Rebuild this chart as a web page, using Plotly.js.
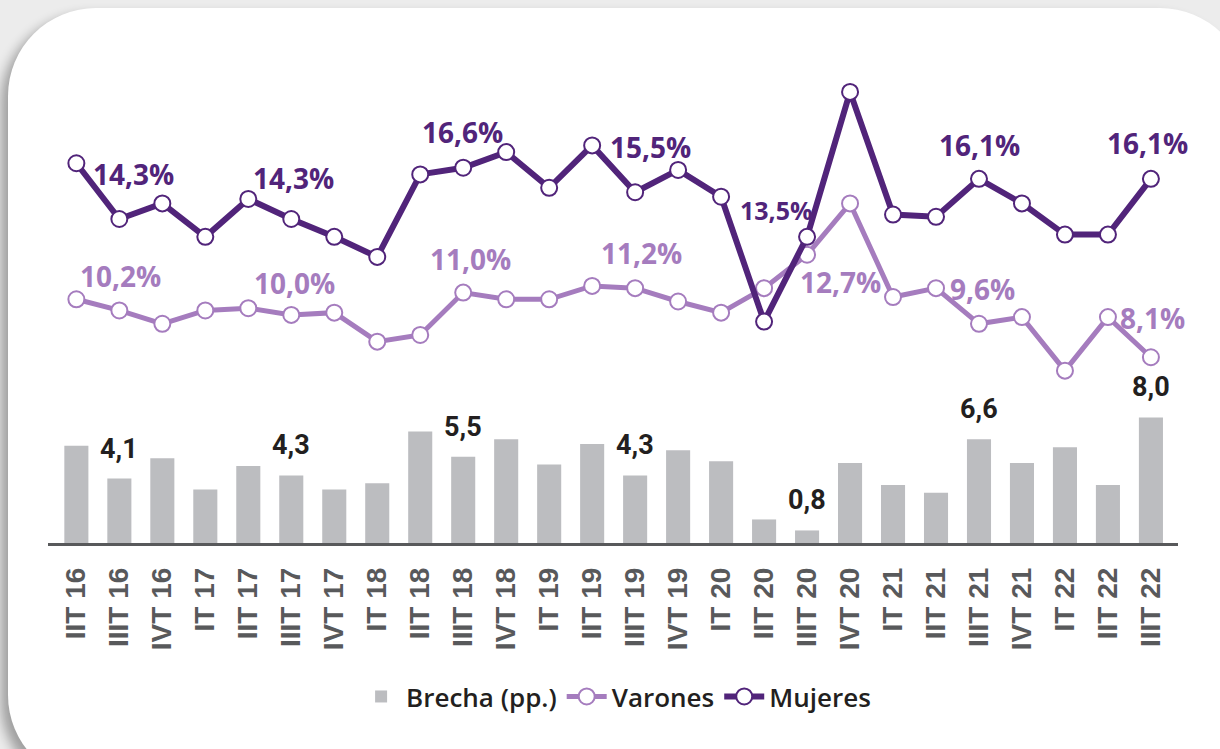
<!DOCTYPE html>
<html>
<head>
<meta charset="utf-8">
<script src="https://cdn.plot.ly/plotly-3.0.1.min.js"></script>
<style>
  html, body { margin: 0; padding: 0; width: 1220px; height: 749px; overflow: hidden; background: #ececec; }
  #card { position: absolute; left: 8px; top: 8px; width: 1240px; height: 775px; border-radius: 88px;
          background: #ffffff; box-shadow: -7px 7px 12px rgba(0,0,0,0.33); }
  #chart { position: absolute; left: 0; top: 0; width: 1220px; height: 749px; }
</style>
</head>
<body>
<div id="card"></div>
<div id="chart"></div>
<script>
// Categories (quarters)
const quarters = ["IIT 16","IIIT 16","IVT 16","IT 17","IIT 17","IIIT 17","IVT 17","IT 18","IIT 18","IIIT 18","IVT 18",
                  "IT 19","IIT 19","IIIT 19","IVT 19","IT 20","IIT 20","IIIT 20","IVT 20","IT 21","IIT 21","IIIT 21",
                  "IVT 21","IT 22","IIT 22","IIIT 22"];
// Brecha (pp.)
const brecha   = [6.2,4.1,5.4,3.4,4.9,4.3,3.4,3.8,7.1,5.5,6.6,5.0,6.3,4.3,5.9,5.2,1.5,0.8,5.1,3.7,3.2,6.6,5.1,6.1,3.7,8.0];
// Varones (%)
const varones  = [10.7,10.2,9.6,10.2,10.3,10.0,10.1,8.8,9.1,11.0,10.7,10.7,11.3,11.2,10.6,10.1,11.2,12.7,15.0,10.8,11.2,9.6,9.9,7.5,9.9,8.1];
// Mujeres (%)
const mujeres  = [16.8,14.3,15.0,13.5,15.2,14.3,13.5,12.6,16.3,16.6,17.3,15.7,17.6,15.5,16.5,15.3,9.7,13.5,20.0,14.5,14.4,16.1,15.0,13.6,13.6,16.1];
// Indices that carry value labels (third quarters)
const labelIdx = [1,5,9,13,17,21,25];

// label offsets (styling only)
const mujShift = [[14,45],[2,41],[-1,36],[15,45],[-31,27],[1,34],[-3,36]];
const varShift = [[1,34],[3,32],[7,34],[6,35],[33,-27],[4,35],[2,39]];

const C_MUJ = "#51247a", C_VAR = "#a57cbe", C_BAR = "#bcbdc0";
const fmt = (v, d) => v.toFixed(d).replace(".", ",");

const traces = [
  { type: "bar", name: "Brecha (pp.)", x: quarters, y: brecha, marker: { color: C_BAR }, width: 0.56,
    yaxis: "y", hoverinfo: "skip" },
  { type: "scatter", mode: "lines+markers", name: "Varones", x: quarters, y: varones, yaxis: "y2",
    line: { color: C_VAR, width: 5 }, marker: { size: 16, color: "#ffffff", line: { color: C_VAR, width: 2 } },
    hoverinfo: "skip" },
  { type: "scatter", mode: "lines+markers", name: "Mujeres", x: quarters, y: mujeres, yaxis: "y2",
    line: { color: C_MUJ, width: 6 }, marker: { size: 16, color: "#ffffff", line: { color: C_MUJ, width: 2 } },
    hoverinfo: "skip" }
];

const annotations = [];
labelIdx.forEach((i, k) => {
  annotations.push({ x: quarters[i], y: mujeres[i], xref: "x", yref: "y2", text: fmt(mujeres[i], 1) + "%",
    showarrow: false, xshift: mujShift[k][0], yshift: mujShift[k][1],
    font: { family: "Open Sans", size: i === 17 ? 25 : 28, weight: 700, color: C_MUJ } });
  annotations.push({ x: quarters[i], y: varones[i], xref: "x", yref: "y2", text: fmt(varones[i], 1) + "%",
    showarrow: false, xshift: varShift[k][0], yshift: varShift[k][1],
    font: { family: "Open Sans", size: 28, weight: 700, color: C_VAR } });
  annotations.push({ x: quarters[i], y: brecha[i], xref: "x", yref: "y", text: fmt(brecha[i], 1),
    showarrow: false, yshift: 30,
    font: { family: "Roboto", size: 27, weight: 700, color: "#231f20" } });
});

const layout = {
  width: 1220, height: 749,
  paper_bgcolor: "rgba(0,0,0,0)", plot_bgcolor: "rgba(0,0,0,0)",
  margin: { l: 48, r: 42, t: 60, b: 206 },
  showlegend: true,
  legend: { orientation: "h", x: 0.505, xanchor: "center", xref: "container", y: 0.07, yanchor: "middle", yref: "container",
    font: { family: "Open Sans", size: 26, weight: 600, color: "#231f20" }, itemwidth: 40, tracegroupgap: 0 },
  xaxis: { type: "category", range: [-0.66, 25.63], showline: true, linecolor: "#58595b", linewidth: 2.5,
    showgrid: false, zeroline: false, ticks: "", tickangle: -90, ticklabelstandoff: 11,
    tickfont: { family: "Liberation Sans", size: 28, weight: 700, color: "#58595b" } },
  yaxis: { range: [0, 30.76], visible: false, showgrid: false, zeroline: false },
  yaxis2: { range: [-0.229, 21.43], overlaying: "y", visible: false, showgrid: false, zeroline: false },
  annotations: annotations,
  bargap: 0.44
};

Plotly.newPlot("chart", traces, layout, { displayModeBar: false, staticPlot: true });
</script>
</body>
</html>
